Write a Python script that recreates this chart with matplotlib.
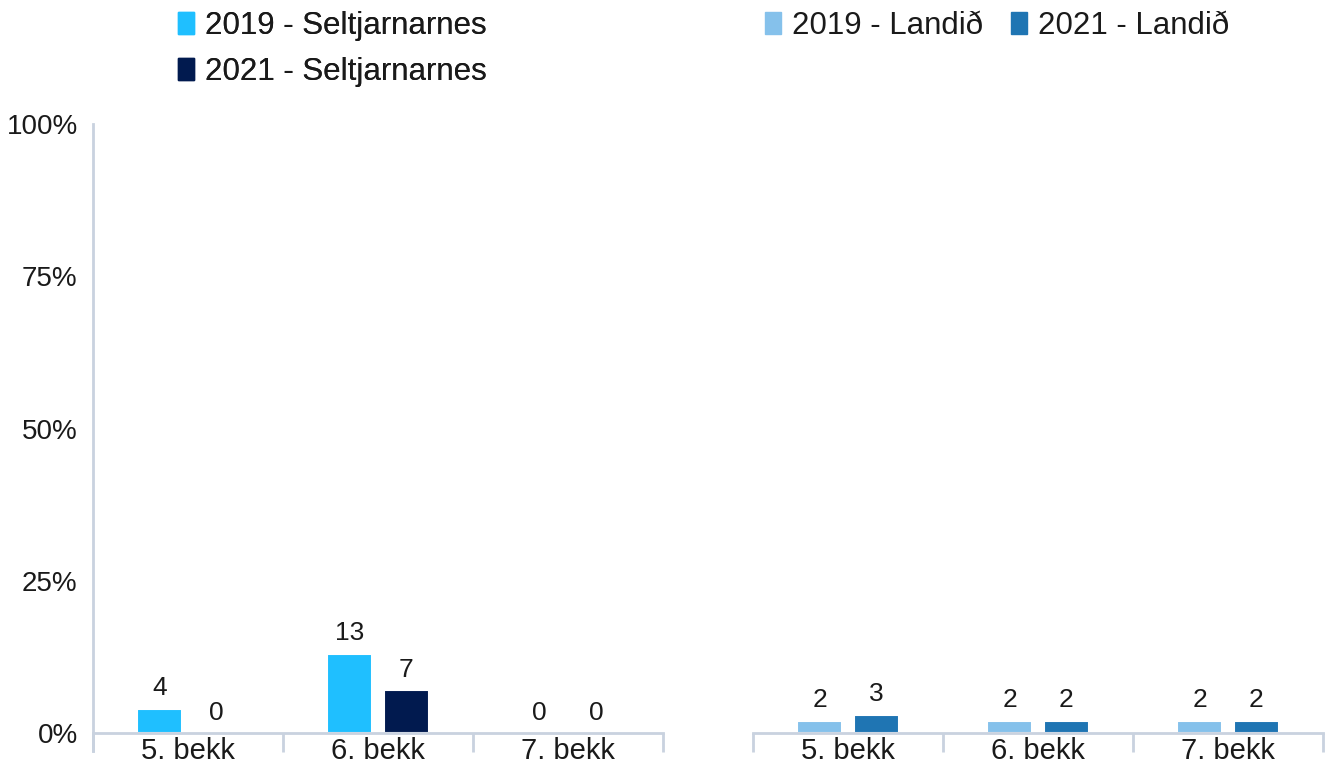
import matplotlib
matplotlib.use("Agg")
import matplotlib.pyplot as plt
import numpy as np
from matplotlib.patches import Patch

plt.rcParams['font.family'] = ['Liberation Sans', 'DejaVu Sans']

categories = ["5. bekk", "6. bekk", "7. bekk"]
selt_2019 = [4, 13, 0]
selt_2021 = [0, 7, 0]
land_2019 = [2, 2, 2]
land_2021 = [3, 2, 2]
yticks = [0, 25, 50, 75, 100]
ytick_labels = ["0%", "25%", "50%", "75%", "100%"]

c_s19 = "#1FBFFF"
c_s21 = "#011A4F"
c_l19 = "#85C1EB"
c_l21 = "#1F75B3"
axis_col = "#C9D2DF"
txt_col = "#1a1a1a"

W, H = 1335, 765
fig = plt.figure(figsize=(W / 100, H / 100), dpi=100)

y0, y1 = 733, 124
axL = fig.add_axes([93 / W, (H - y0) / H, 570 / W, (y0 - y1) / H])
axR = fig.add_axes([753 / W, (H - y0) / H, 570 / W, (y0 - y1) / H])

x = np.arange(len(categories))
bw = 0.24
off = 0.15
fs_x = 21
fs_lab = 19
fs_y = 20
fs_leg = 22.5


def draw(ax, v19, v21, col19, col21, show_y):
    ax.bar(x - off, v19, bw, color=col19, edgecolor="white", linewidth=1.5)
    ax.bar(x + off, v21, bw, color=col21, edgecolor="white", linewidth=1.5)
    for xi, v in zip(x - off, v19):
        ax.annotate(str(v), (xi, v), xytext=(0, 6), textcoords="offset points",
                    ha="center", va="bottom", fontsize=fs_lab, color=txt_col)
    for xi, v in zip(x + off, v21):
        ax.annotate(str(v), (xi, v), xytext=(0, 6), textcoords="offset points",
                    ha="center", va="bottom", fontsize=fs_lab, color=txt_col)
    ax.set_xlim(-0.5, 2.5)
    ax.set_ylim(0, 100)
    ax.set_xticks(x)
    ax.set_xticklabels(categories, fontsize=fs_x, color=txt_col)
    ax.tick_params(axis="x", length=0, pad=3)
    ax.set_xticks([-0.5, 0.5, 1.5, 2.5], minor=True)
    ax.tick_params(axis="x", which="minor", length=14, width=2, color=axis_col)
    for s in ["top", "right"]:
        ax.spines[s].set_visible(False)
    ax.spines["bottom"].set_color(axis_col)
    ax.spines["bottom"].set_linewidth(2)
    if show_y:
        ax.spines["left"].set_color(axis_col)
        ax.spines["left"].set_linewidth(2)
        ax.spines["left"].set_bounds(-3, 100)
        ax.set_yticks(yticks)
        ax.set_yticklabels(ytick_labels, fontsize=fs_y, color=txt_col)
        ax.tick_params(axis="y", length=0, pad=11)
    else:
        ax.spines["left"].set_visible(False)
        ax.set_yticks([])
    ax.patch.set_alpha(0)


draw(axL, selt_2019, selt_2021, c_s19, c_s21, True)
draw(axR, land_2019, land_2021, c_l19, c_l21, False)

leg_kw = dict(frameon=False, fontsize=fs_leg, handlelength=0.51, handleheight=0.72,
              handletextpad=0.35, borderaxespad=0, borderpad=0, labelcolor=txt_col)
legL = fig.legend(handles=[Patch(color=c_s19, label="2019 - Seltjarnarnes"),
                           Patch(color=c_s21, label="2021 - Seltjarnarnes")],
                  loc="upper left", bbox_to_anchor=(178 / W, 1 - 11 / H), ncol=1,
                  labelspacing=0.52, **leg_kw)
fig.add_artist(legL)
fig.legend(handles=[Patch(color=c_l19, label="2019 - Landið"),
                    Patch(color=c_l21, label="2021 - Landið")],
           loc="upper left", bbox_to_anchor=(765 / W, 1 - 11 / H), ncol=2,
           columnspacing=0.9, **leg_kw)

fig.savefig("out.png", dpi=100, facecolor="white")
